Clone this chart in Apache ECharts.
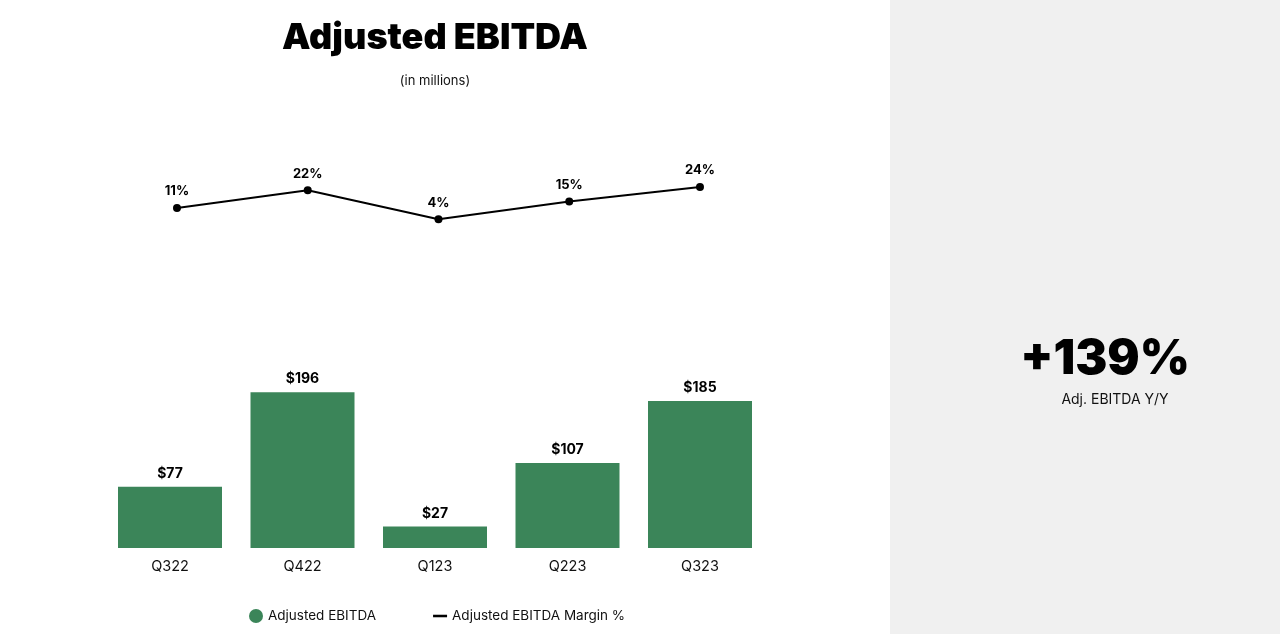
<!DOCTYPE html>
<html><head><meta charset="utf-8">
<script src="https://cdn.jsdelivr.net/npm/echarts@6/dist/echarts.min.js"></script>
<style>html,body{margin:0;padding:0;background:#fff}#c{width:1280px;height:634px}</style>
</head><body><div id="c"></div>
<script>
var categories = ['Q322','Q422','Q123','Q223','Q323'];
var ebitda = [77,196,27,107,185];
var margin = [11,22,4,15,24];
var headline = '+139%';
var headlineSub = 'Adj. EBITDA Y/Y';

var FONT = 'Inter, "Liberation Sans", sans-serif';
var chart = echarts.init(document.getElementById('c'));
chart.setOption({
  backgroundColor: '#ffffff',
  animation: false,
  graphic: [
    {type:'rect', left: 890, top: 0, shape:{width:390, height:634}, style:{fill:'#f0f0f0'}, z:-10}
  ],
  title: [
    {text:'Adjusted EBITDA', left: 430, top: 15, textAlign:'center',
     textStyle:{fontFamily:FONT, fontSize:36, fontWeight:900, color:'#000'}},
    {text:'(in millions)', left: 430, top: 70, textAlign:'center',
     textStyle:{fontFamily:FONT, fontSize:13, fontWeight:400, color:'#111'}},
    {text:headline, left: 1100, top: 331, textAlign:'center',
     textStyle:{fontFamily:FONT, fontSize:48, fontWeight:900, color:'#000'}},
    {text:headlineSub, left: 1110, top: 388, textAlign:'center',
     textStyle:{fontFamily:FONT, fontSize:14, fontWeight:400, color:'#111'}}
  ],
  legend: {
    left: 244, top: 604, itemGap: 57, itemWidth: 14, itemHeight: 14,
    textStyle:{fontFamily:FONT, fontSize:13.5, color:'#111'},
    data: [
      {name:'Adjusted EBITDA', icon:'circle'},
      {name:'Adjusted EBITDA Margin %', icon:'path://M0,0H11V2H0Z'}
    ]
  },
  grid: [
    {left:111.6, width:653.75, top:145.2, height:80.5},
    {left:103.75, width:662.5, top:349.25, height:198.75}
  ],
  xAxis: [
    {gridIndex:0, type:'category', data:categories, show:false},
    {gridIndex:1, type:'category', data:categories,
     axisLine:{show:false}, axisTick:{show:false},
     axisLabel:{fontFamily:FONT, fontSize:14.5, color:'#111', margin:11}}
  ],
  yAxis: [
    {gridIndex:0, type:'value', min:0, max:50, show:false},
    {gridIndex:1, type:'value', min:0, max:250, show:false}
  ],
  series: [
    {name:'Adjusted EBITDA', type:'bar', xAxisIndex:1, yAxisIndex:1, data:ebitda,
     barWidth:104, itemStyle:{color:'#3b8559'},
     label:{show:true, position:'top', distance:6, formatter:function(p){return '$'+p.value;},
       fontFamily:FONT, fontSize:14, fontWeight:700, color:'#000'}},
    {name:'Adjusted EBITDA Margin %', type:'line', xAxisIndex:0, yAxisIndex:0, data:margin,
     symbol:'circle', symbolSize:8, itemStyle:{color:'#000'}, lineStyle:{color:'#000', width:2},
     label:{show:true, position:'top', distance:6, formatter:'{c}%',
       fontFamily:FONT, fontSize:13, fontWeight:700, color:'#000'}}
  ]
});
</script></body></html>
